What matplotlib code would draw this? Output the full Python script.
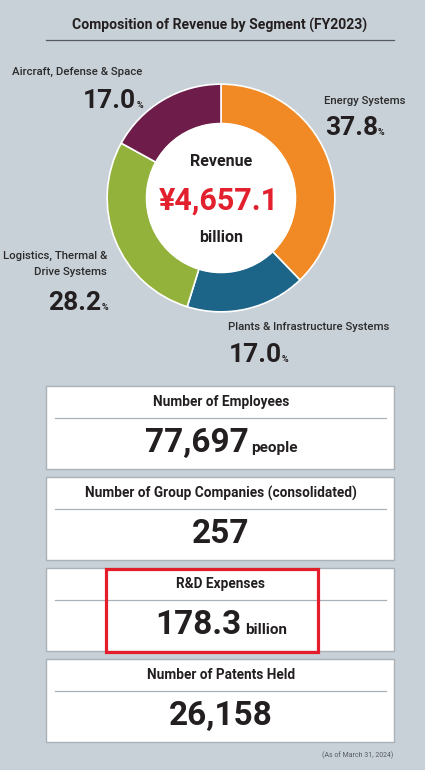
import matplotlib.pyplot as plt
from matplotlib.patches import Rectangle, Circle
from matplotlib.offsetbox import TextArea, HPacker, AnnotationBbox

plt.rcParams['font.family'] = ['Roboto', 'DejaVu Sans']

# data
segments = ["Energy Systems", "Plants & Infrastructure Systems",
            "Logistics, Thermal &\nDrive Systems", "Aircraft, Defense & Space"]
shares = [37.8, 17.0, 28.2, 17.0]
seg_colors = ["#f18a24", "#1d6489", "#93b23c", "#6e1c49"]
revenue = "¥4,657.1"

stat_titles = ["Number of Employees", "Number of Group Companies (consolidated)",
               "R&D Expenses", "Number of Patents Held"]
stat_values = ["77,697", "257", "178.3", "26,158"]
stat_units = ["people", "", "billion", ""]

bg = "#c9d1d8"
dark = "#231f20"

fig = plt.figure(figsize=(4.25, 7.7), dpi=100)
fig.patch.set_facecolor(bg)

# donut (drawn underneath the text layer)
pax = fig.add_axes([106 / 425, (770 - 313) / 770, 230 / 425, 230 / 770])
pax.set_zorder(1)
pax.pie(shares, colors=seg_colors, startangle=90, counterclock=False,
        wedgeprops=dict(width=0.35, edgecolor='white', linewidth=1.2))
pax.add_patch(Circle((0, 0), 0.655, color='white', zorder=5))
pax.set_xlim(-1.01, 1.01)
pax.set_ylim(-1.01, 1.01)
pax.axis('off')

ax = fig.add_axes([0, 0, 1, 1])
ax.set_zorder(2)
ax.set_xlim(0, 425)
ax.set_ylim(770, 0)
ax.axis('off')

# title
ax.text(220, 25, "Composition of Revenue by Segment (FY2023)", ha='center', va='center',
        fontsize=10.1, fontweight='bold', color=dark)
ax.plot([46, 394], [40, 40], color="#555b60", lw=0.9)

ax.text(221, 161, "Revenue", ha='center', va='center', fontsize=11.5,
        fontweight='bold', color=dark)
ax.text(219, 201, revenue, ha='center', va='center', fontsize=22,
        fontweight='bold', color="#e2202e")
ax.text(221, 237, "billion", ha='center', va='center', fontsize=11.5,
        fontweight='bold', color=dark)


def pct_label(x, y, value, align):
    num = TextArea(f"{value:.1f}", textprops=dict(fontsize=19, fontweight='bold', color=dark))
    pc = TextArea("%", textprops=dict(fontsize=6.5, fontweight='bold', color=dark))
    box = HPacker(children=[num, pc], align='baseline', pad=0, sep=0)
    ab = AnnotationBbox(box, (x, y), xycoords='data', box_alignment=(align, 0),
                        frameon=False, pad=0)
    ax.add_artist(ab)


# segment labels: (name x, name y, ha, value x, value y)
lab_pos = [(324, 101, 'left', 325, 140),
           (228, 327, 'left', 229, 367),
           (107, 264, 'right', 108, 315),
           (142, 72, 'right', 143, 113)]
for name, v, (lx, ly, ha, vx, vy) in zip(segments, shares, lab_pos):
    ax.text(lx, ly, name, ha=ha, va='center', fontsize=8.2, fontweight='medium',
            color="#2b2b2b", linespacing=1.8)
    pct_label(vx, vy, v, 0 if ha == 'left' else 1)

# stat boxes
box_top = [386, 477, 568, 659]
unit_gap = {"people": 1.5, "billion": 2.5}
for top, title, val, unit in zip(box_top, stat_titles, stat_values, stat_units):
    ax.add_patch(Rectangle((46, top), 348, 83, facecolor='white',
                           edgecolor="#aab2b8", lw=1.0))
    ax.text(221, top + 16, title, ha='center', va='center', fontsize=9.8,
            fontweight='bold', color=dark)
    ax.plot([55, 386], [top + 32, top + 32], color="#a9b1b8", lw=0.9)
    parts = [TextArea(val, textprops=dict(fontsize=24, fontweight='bold', color=dark))]
    if unit:
        parts.append(TextArea(unit, textprops=dict(fontsize=11, fontweight='bold', color=dark)))
    box = HPacker(children=parts, align='baseline', pad=0, sep=unit_gap.get(unit, 0))
    ab = AnnotationBbox(box, (221, top + 73), xycoords='data', box_alignment=(0.5, 0),
                        frameon=False, pad=0)
    ax.add_artist(ab)

# highlight around R&D
ax.add_patch(Rectangle((106, 569), 212, 83, facecolor='none',
                       edgecolor="#e31e2a", lw=2.3, zorder=20))

ax.text(393, 755, "(As of March 31, 2024)", ha='right', va='center',
        fontsize=5, color="#555b60")

fig.savefig("out.png", dpi=100, facecolor=bg)
